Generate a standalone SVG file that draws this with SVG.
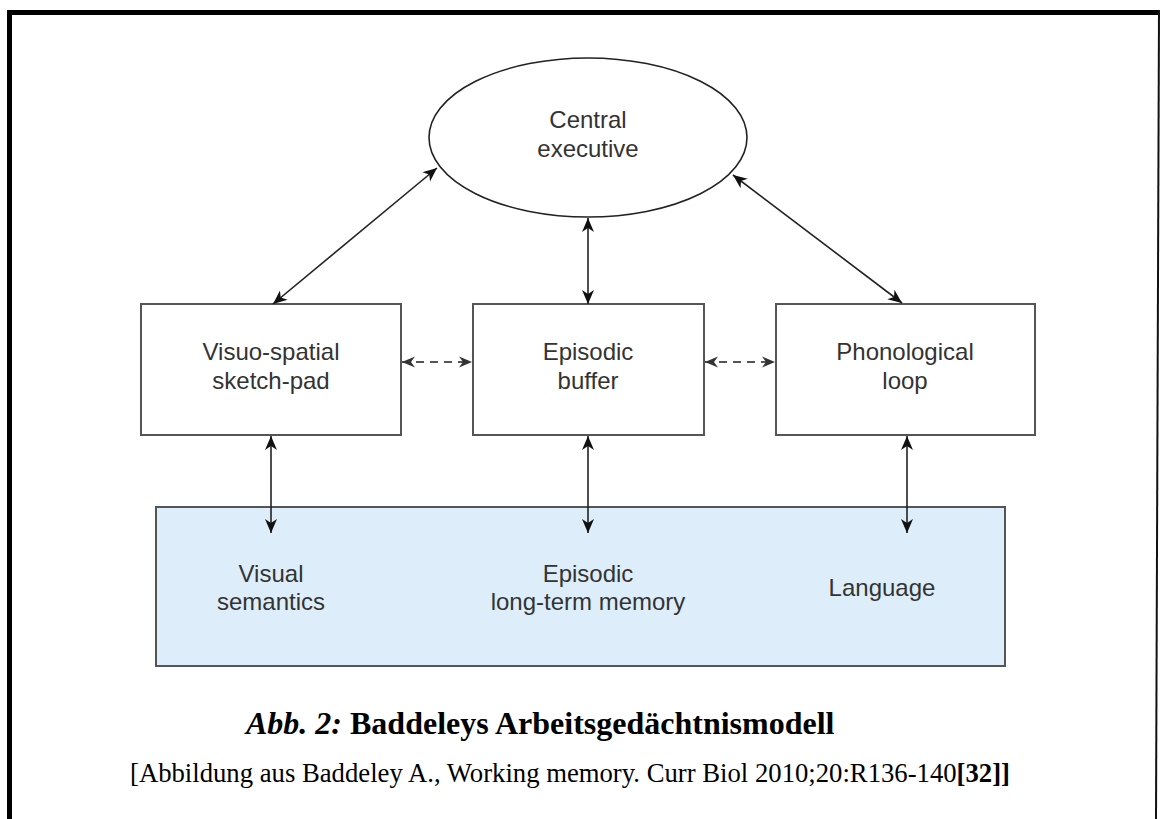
<svg xmlns="http://www.w3.org/2000/svg" width="1161" height="819" viewBox="0 0 1161 819">
  <style>
    .lbl { font-family: "Liberation Sans", Arial, sans-serif; font-size: 24px; fill: #333; text-anchor: middle; }
    .box { fill: #fff; stroke: #555; stroke-width: 2; }
    .ltm { fill: #ddeefa; stroke: #555; stroke-width: 2; }
    .arrow { stroke: #222; stroke-width: 1.6; fill: none; marker-start: url(#head); marker-end: url(#head); }
    .dash { stroke: #555; stroke-width: 1.8; fill: none; stroke-dasharray: 8 6; marker-start: url(#headg); marker-end: url(#headg); }
    .cap { font-family: "Liberation Serif", "Times New Roman", serif; fill: #000; }
  </style>
  <defs>
    <marker id="head" viewBox="-15 -7 17 14" markerWidth="17" markerHeight="14" refX="0" refY="0" orient="auto-start-reverse" markerUnits="userSpaceOnUse">
      <path d="M0,0 L-14,-6 L-10,0 L-14,6 Z" fill="#111"/>
    </marker>
    <marker id="headg" viewBox="-15 -7 17 14" markerWidth="17" markerHeight="14" refX="0" refY="0" orient="auto-start-reverse" markerUnits="userSpaceOnUse">
      <path d="M0,0 L-13,-5.5 L-9,0 L-13,5.5 Z" fill="#333"/>
    </marker>
  </defs>

  <rect width="1161" height="819" fill="#fff"/>

  <!-- page frame -->
  <g id="frame">
    <rect x="7" y="10" width="1153" height="5" fill="#000"/>
    <rect x="7" y="10" width="5" height="809" fill="#000"/>
    <line x1="1159" y1="10" x2="1156" y2="819" stroke="#111" stroke-width="2"/>
  </g>

  <g id="central-executive">
    <ellipse cx="588" cy="137.5" rx="159" ry="79.5" fill="#fff" stroke="#222" stroke-width="1.6"/>
    <text class="lbl" x="588" y="128">Central</text>
    <text class="lbl" x="588" y="157">executive</text>
  </g>

  <g id="sketch-pad">
    <rect class="box" x="141" y="304" width="260" height="131"/>
    <text class="lbl" x="271" y="360">Visuo-spatial</text>
    <text class="lbl" x="271" y="389">sketch-pad</text>
  </g>

  <g id="episodic-buffer">
    <rect class="box" x="473" y="304" width="231" height="131"/>
    <text class="lbl" x="588" y="360">Episodic</text>
    <text class="lbl" x="588" y="389">buffer</text>
  </g>

  <g id="phonological-loop">
    <rect class="box" x="776" y="304" width="259" height="131"/>
    <text class="lbl" x="905" y="360">Phonological</text>
    <text class="lbl" x="905" y="389">loop</text>
  </g>

  <g id="long-term-memory">
    <rect class="ltm" x="156" y="507" width="849" height="159"/>
    <text class="lbl" x="271" y="582">Visual</text>
    <text class="lbl" x="271" y="610">semantics</text>
    <text class="lbl" x="588" y="582">Episodic</text>
    <text class="lbl" x="588" y="610">long-term memory</text>
    <text class="lbl" x="882" y="596">Language</text>
  </g>

  <!-- connectors, drawn over the nodes so the lower arrows reach into the memory box -->
  <g id="connectors">
    <line class="arrow" x1="273" y1="304" x2="437" y2="168"/>
    <line class="arrow" x1="588" y1="218" x2="588" y2="304"/>
    <line class="arrow" x1="733" y1="175" x2="902" y2="303"/>
    <line class="dash" x1="402" y1="362" x2="472" y2="362"/>
    <line class="dash" x1="705" y1="362" x2="775" y2="362"/>
    <line class="arrow" x1="271" y1="436" x2="271" y2="533"/>
    <line class="arrow" x1="588" y1="436" x2="588" y2="533"/>
    <line class="arrow" x1="907" y1="436" x2="907" y2="533"/>
  </g>

  <!-- caption -->
  <g id="caption">
    <text class="cap" x="246" y="734" font-size="32" font-weight="bold"><tspan font-style="italic">Abb. 2:</tspan> Baddeleys Arbeitsgedächtnismodell</text>
    <text class="cap" x="130" y="782" font-size="26.7">[Abbildung aus Baddeley A., Working memory. Curr Biol 2010;20:R136-140<tspan font-weight="bold">[32]]</tspan></text>
  </g>
</svg>
